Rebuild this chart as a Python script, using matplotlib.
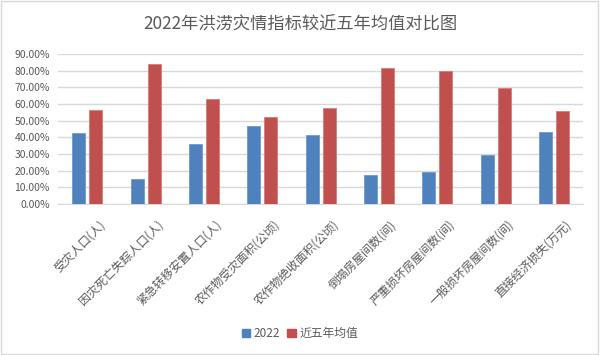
import matplotlib
matplotlib.use("Agg")
import matplotlib.pyplot as plt
import matplotlib.transforms as mtransforms
import numpy as np
from matplotlib.patches import Rectangle
from matplotlib.ticker import PercentFormatter

plt.rcParams["font.family"] = ["Noto Sans CJK SC", "DejaVu Sans"]

categories = ["受灾人口(人)", "因灾死亡失踪人口(人)", "紧急转移安置人口(人)",
              "农作物受灾面积(公顷)", "农作物绝收面积(公顷)", "倒塌房屋间数(间)",
              "严重损坏房屋间数(间)", "一般损坏房屋间数(间)", "直接经济损失(万元)"]
values_2022 = [0.424, 0.152, 0.362, 0.470, 0.412, 0.172, 0.192, 0.292, 0.432]
values_avg = [0.566, 0.838, 0.628, 0.520, 0.578, 0.818, 0.800, 0.698, 0.558]
series_names = ["2022", "近五年均值"]

BLUE = "#4F81BD"
RED = "#C0504D"
GREY = "#595959"

fig = plt.figure(figsize=(6, 3.55), dpi=100)
ax = fig.add_axes([0.097, 0.425, 0.875, 0.423])

x = np.arange(len(categories))
w = 0.22
ax.bar(x - 0.145, values_2022, w, color=BLUE, edgecolor="#6E9AD0", lw=0.6, zorder=3)
ax.bar(x + 0.145, values_avg, w, color=RED, edgecolor="#D77A78", lw=0.6, zorder=3)

ax.set_xlim(-0.5, len(categories) - 0.5)
ax.set_ylim(0, 0.9)
ax.set_yticks(np.arange(0, 0.91, 0.1))
ax.yaxis.set_major_formatter(PercentFormatter(1.0, decimals=2))
ax.grid(axis="y", color="#D9D9D9", lw=1, zorder=0)
for s in ["top", "right", "left"]:
    ax.spines[s].set_visible(False)
ax.spines["bottom"].set_color("#D9D9D9")
ax.tick_params(axis="y", length=0, labelsize=7.5, labelcolor=GREY, pad=6)
ax.tick_params(axis="x", length=0, pad=4)
ax.set_xticks(x)
ax.set_xticklabels(categories, rotation=45, ha="right", rotation_mode="anchor",
                   fontsize=8.5, color=GREY)
# Excel places the rotated labels a bit lower and to the right
shift = mtransforms.ScaledTranslation(8 / 72, -6 / 72, fig.dpi_scale_trans)
for lab in ax.get_xticklabels():
    lab.set_transform(lab.get_transform() + shift)

fig.text(0.5, 0.93, "2022年洪涝灾情指标较近五年均值对比图", ha="center", va="center",
         fontsize=12.4, color=GREY)

# legend at bottom
leg = ax.legend(handles=[Rectangle((0, 0), 1, 1, color=BLUE), Rectangle((0, 0), 1, 1, color=RED)],
                labels=series_names, loc="center", bbox_to_anchor=(0.5, 0.06),
                bbox_transform=fig.transFigure, ncol=2, frameon=False, fontsize=8.5,
                handlelength=0.7, handleheight=0.7, handletextpad=0.3, columnspacing=0.6)
for t in leg.get_texts():
    t.set_color(GREY)

fig.patches.append(Rectangle((0.002, 0.003), 0.995, 0.994, transform=fig.transFigure,
                             fill=False, edgecolor="#D9D9D9", lw=1))

fig.savefig("out.png", dpi=100)
